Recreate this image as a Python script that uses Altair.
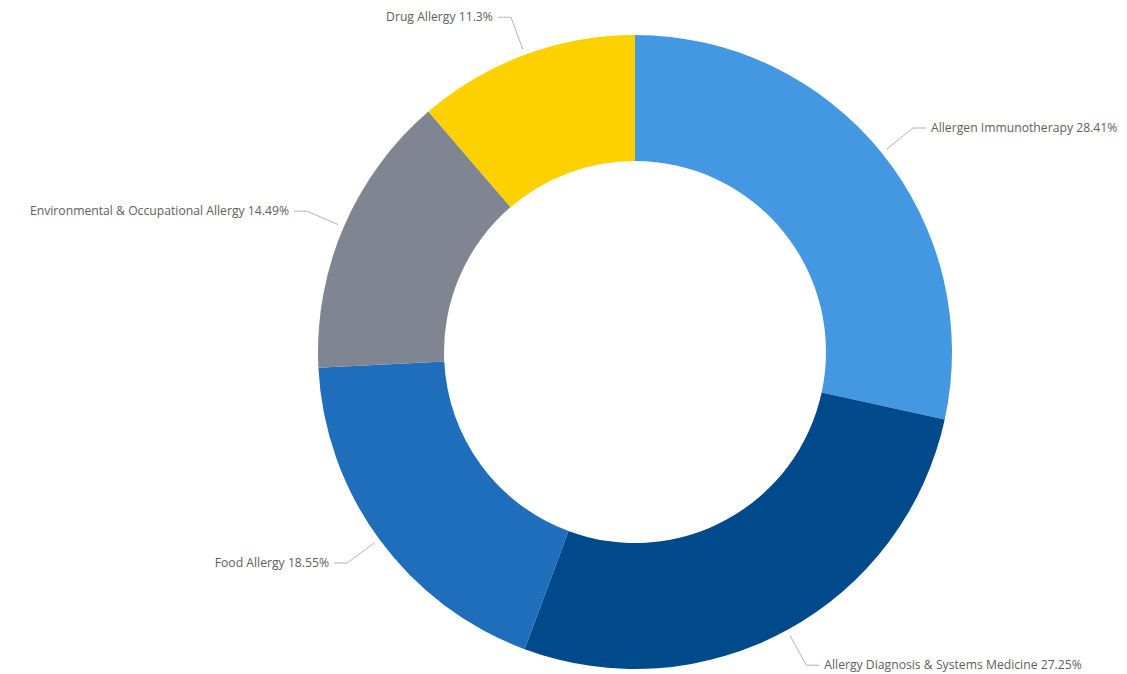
import altair as alt
import pandas as pd

categories = ["Allergen Immunotherapy", "Allergy Diagnosis & Systems Medicine", "Food Allergy",
              "Environmental & Occupational Allergy", "Drug Allergy"]
values = [28.41, 27.25, 18.55, 14.49, 11.3]
colors = ["#4398E1", "#004A8B", "#1E6EBB", "#7F8591", "#FDD100"]

df = pd.DataFrame({"category": categories, "value": values, "idx": list(range(len(values)))})

CX, CY = 627, 344
R_OUT, R_IN = 317, 191
R1, R2 = 323, 357
HSEG, TGAP = 13, 5
W, H = 1111, 666

base = alt.Chart(df)

arcs = base.mark_arc(innerRadius=R_IN, outerRadius=R_OUT).encode(
    theta=alt.Theta("value:Q", stack=True),
    order=alt.Order("idx:Q"),
    color=alt.Color("category:N", scale=alt.Scale(domain=categories, range=colors), legend=None),
    x=alt.value(CX), y=alt.value(CY),
)

geo = base.transform_joinaggregate(total="sum(value)").transform_window(
    cum="sum(value)", sort=[alt.SortField("idx")], frame=[None, 0]
).transform_calculate(
    mid="(datum.cum - datum.value/2)/datum.total*2*PI",
).transform_calculate(
    side="sin(datum.mid) >= 0 ? 1 : -1",
    x0=f"{CX} + {R1}*sin(datum.mid)",
    y0=f"{CY} - {R1}*cos(datum.mid)",
    x1=f"{CX} + {R2}*sin(datum.mid)",
    y1=f"{CY} - {R2}*cos(datum.mid)",
).transform_calculate(
    x2=f"datum.x1 + datum.side*{HSEG}",
    tx=f"datum.x1 + datum.side*{HSEG + TGAP}",
    label="datum.category + ' ' + datum.value + '%'",
)

seg1 = geo.mark_rule(color="#B3B3B3", strokeWidth=1).encode(
    x=alt.X("x0:Q", scale=None), y=alt.Y("y0:Q", scale=None),
    x2="x1:Q", y2="y1:Q",
)
seg2 = geo.mark_rule(color="#B3B3B3", strokeWidth=1).encode(
    x=alt.X("x1:Q", scale=None), y=alt.Y("y1:Q", scale=None),
    x2="x2:Q", y2="y1:Q",
)
txt_r = geo.transform_filter("datum.side > 0").mark_text(
    align="left", baseline="middle", font="Open Sans", fontSize=12.2, color="#605E5C"
).encode(x=alt.X("tx:Q", scale=None), y=alt.Y("y1:Q", scale=None), text="label:N")
txt_l = geo.transform_filter("datum.side < 0").mark_text(
    align="right", baseline="middle", font="Open Sans", fontSize=12.2, color="#605E5C"
).encode(x=alt.X("tx:Q", scale=None), y=alt.Y("y1:Q", scale=None), text="label:N")

chart = alt.layer(arcs, seg1, seg2, txt_r, txt_l).properties(
    width=W, height=H, autosize=alt.AutoSizeParams(type="none"), padding=0
).configure_view(stroke=None)

chart.save("out.html", embed_options={"renderer": "svg", "actions": False})
